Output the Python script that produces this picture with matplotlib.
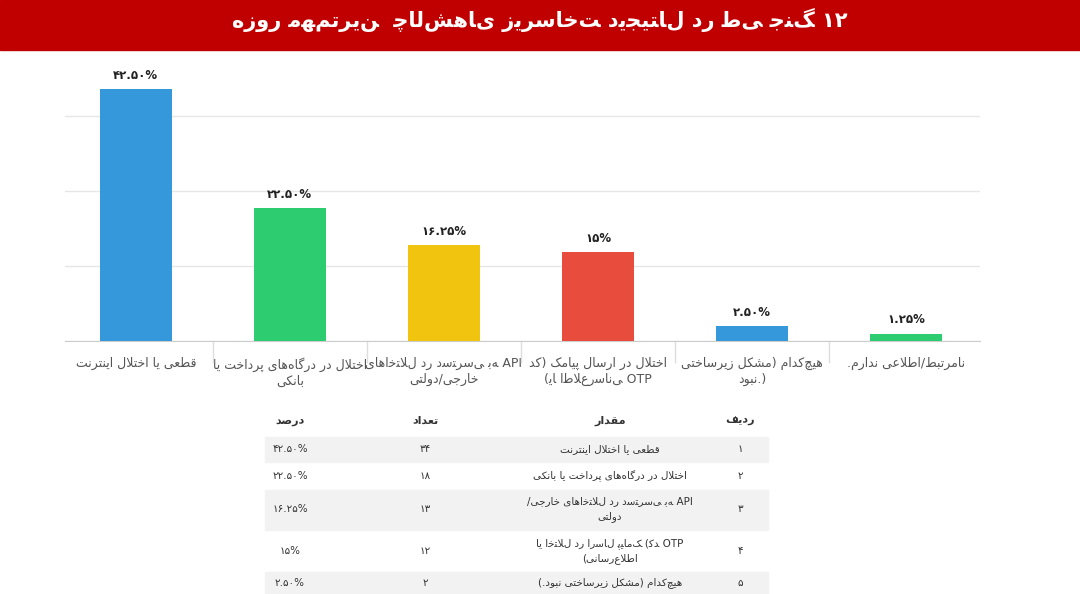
import matplotlib
matplotlib.use("Agg")
import matplotlib.pyplot as plt
import numpy as np

# --- data -------------------------------------------------------------
categories = [
    "قطعی یا اختلال اینترنت",
    "اختلال در درگاه‌های پرداخت یا\nبانکی",
    "اختلال در دسترسی به APIهای\nخارجی/دولتی",
    "اختلال در ارسال پیامک (کد\nیا اطلاع‌رسانی OTP)",
    "هیچ‌کدام (مشکل زیرساختی\n(.نبود",
    "نامرتبط/اطلاعی ندارم.",
]
values = [42.5, 22.5, 16.25, 15.0, 2.5, 1.25]
value_labels = ["۴۲.۵۰%", "۲۲.۵۰%", "۱۶.۲۵%", "۱۵%", "۲.۵۰%", "۱.۲۵%"]
colors = ["#3598db", "#2ecc71", "#f1c40f", "#e74c3c", "#3598db", "#2ecc71"]
title = "مهم‌ترین  چالش‌های زیرساخت دیجیتال در طی جنگ ۱۲ روزه"

table_header = ["ردیف", "مقدار", "تعداد", "درصد"]
table_rows = [
    ["۱", "قطعی یا اختلال اینترنت", "۳۴", "۴۲.۵۰%"],
    ["۲", "اختلال در درگاه‌های پرداخت یا بانکی", "۱۸", "۲۲.۵۰%"],
    ["۳", "اختلال در دسترسی به APIهای خارجی/\nدولتی", "۱۳", "۱۶.۲۵%"],
    ["۴", "اختلال در ارسال پیامک (کد OTP یا\nاطلاع‌رسانی)", "۱۲", "۱۵%"],
    ["۵", "هیچ‌کدام (مشکل زیرساختی نبود.)", "۲", "۲.۵۰%"],
]

# --- minimal Persian shaping (matplotlib has no complex text layout) ---
FORMS = {  # isolated, final, initial, medial
    "ا": (0xFE8D, 0xFE8E), "آ": (0xFE81, 0xFE82), "د": (0xFEA9, 0xFEAA),
    "ذ": (0xFEAB, 0xFEAC), "ر": (0xFEAD, 0xFEAE), "ز": (0xFEAF, 0xFEB0),
    "ژ": (0xFB8A, 0xFB8B), "و": (0xFEED, 0xFEEE),
    "ب": (0xFE8F, 0xFE90, 0xFE91, 0xFE92), "پ": (0xFB56, 0xFB57, 0xFB58, 0xFB59),
    "ت": (0xFE95, 0xFE96, 0xFE97, 0xFE98), "ث": (0xFE99, 0xFE9A, 0xFE9B, 0xFE9C),
    "ج": (0xFE9D, 0xFE9E, 0xFE9F, 0xFEA0), "چ": (0xFB7A, 0xFB7B, 0xFB7C, 0xFB7D),
    "ح": (0xFEA1, 0xFEA2, 0xFEA3, 0xFEA4), "خ": (0xFEA5, 0xFEA6, 0xFEA7, 0xFEA8),
    "س": (0xFEB1, 0xFEB2, 0xFEB3, 0xFEB4), "ش": (0xFEB5, 0xFEB6, 0xFEB7, 0xFEB8),
    "ص": (0xFEB9, 0xFEBA, 0xFEBB, 0xFEBC), "ض": (0xFEBD, 0xFEBE, 0xFEBF, 0xFEC0),
    "ط": (0xFEC1, 0xFEC2, 0xFEC3, 0xFEC4), "ظ": (0xFEC5, 0xFEC6, 0xFEC7, 0xFEC8),
    "ع": (0xFEC9, 0xFECA, 0xFECB, 0xFECC), "غ": (0xFECD, 0xFECE, 0xFECF, 0xFED0),
    "ف": (0xFED1, 0xFED2, 0xFED3, 0xFED4), "ق": (0xFED5, 0xFED6, 0xFED7, 0xFED8),
    "ک": (0xFB8E, 0xFB8F, 0xFB90, 0xFB91), "گ": (0xFB92, 0xFB93, 0xFB94, 0xFB95),
    "ل": (0xFEDD, 0xFEDE, 0xFEDF, 0xFEE0), "م": (0xFEE1, 0xFEE2, 0xFEE3, 0xFEE4),
    "ن": (0xFEE5, 0xFEE6, 0xFEE7, 0xFEE8), "ه": (0xFEE9, 0xFEEA, 0xFEEB, 0xFEEC),
    "ی": (0xFBFC, 0xFBFD, 0xFBFE, 0xFBFF),
}
MIRROR = {"(": ")", ")": "("}


def shape_word(s):
    out = []
    i = 0
    while i < len(s):
        c = s[i]
        if c not in FORMS:
            out.append(c)
            i += 1
            continue
        prev = s[i - 1] if i > 0 else ""
        joins_prev = prev in FORMS and len(FORMS[prev]) == 4
        # lam-alef ligature
        if c == "ل" and i + 1 < len(s) and s[i + 1] == "ا":
            out.append(chr(0xFEFC if joins_prev else 0xFEFB))
            i += 2
            continue
        f = FORMS[c]
        nxt = s[i + 1] if i + 1 < len(s) else ""
        joins_next = len(f) == 4 and nxt in FORMS
        if joins_prev and joins_next:
            out.append(chr(f[3]))
        elif joins_prev:
            out.append(chr(f[1]))
        elif joins_next:
            out.append(chr(f[2]))
        else:
            out.append(chr(f[0]))
        i += 1
    return "".join(out).replace("\u200c", "")


def is_ltr(c):
    return c.isascii() and c.isalnum() or "\u06f0" <= c <= "\u06f9"


def fa_line(s):
    s = shape_word(s)
    runs, cur, cur_ltr = [], "", None
    for c in s:
        l = is_ltr(c) or (cur_ltr and c in ".%")
        if cur_ltr is None or l == cur_ltr:
            cur += c
        else:
            runs.append((cur, cur_ltr))
            cur = c
        cur_ltr = l
    if cur:
        runs.append((cur, cur_ltr))
    vis = []
    for text, ltr in reversed(runs):
        vis.append(text if ltr else "".join(MIRROR.get(c, c) for c in reversed(text)))
    return "".join(vis)


def fa(s):
    return "\n".join(fa_line(l) for l in s.split("\n"))


# --- figure -----------------------------------------------------------
plt.rcParams["font.family"] = ["DejaVu Sans"]
fig = plt.figure(figsize=(10.8, 5.94), dpi=100)
W, H = 1080, 594

# red title banner
fig.patches.append(plt.Rectangle((0, 1 - 50 / H), 1, 50 / H, transform=fig.transFigure,
                                 color="#c00000", zorder=0))
fig.text(0.5, 1 - 20 / H, fa(title), ha="center", va="center", color="white",
         fontsize=15, fontweight="bold")

ax = fig.add_axes([65 / W, 1 - 341 / H, 915 / W, 281 / H])
x = np.arange(len(values))
ax.bar(x, values, width=0.47, color=colors, zorder=3)
for xi, v, lab in zip(x, values, value_labels):
    ax.text(xi, v + 1.2, lab, ha="center", va="bottom", fontsize=8.5, fontweight="bold",
            color="#222222")
ax.set_xlim(-0.46, 5.48)
ax.set_ylim(0, 47.4)
ax.set_yticks(np.arange(0, 47.4, 12.65))
ax.yaxis.grid(True, color="#e6e6e6", linewidth=1, zorder=0)
ax.tick_params(left=False, labelleft=False, bottom=False)
for sp in ["top", "right", "left"]:
    ax.spines[sp].set_visible(False)
ax.spines["bottom"].set_color("#cccccc")
ax.set_xticks(x)
ax.set_xticklabels([fa(c) for c in categories], fontsize=9, color="#555555",
                   linespacing=1.3)
ax.tick_params(axis="x", pad=8)
for b in np.arange(0.5, 5, 1):
    ax.plot([b, b], [0, -0.075], transform=ax.get_xaxis_transform(), color="#dddddd",
            linewidth=1, clip_on=False)

# --- table ------------------------------------------------------------
col_x = [740, 610, 425, 290]
fx = lambda px: px / W
fy = lambda py: 1 - py / H
for cx, h in zip(col_x, table_header):
    fig.text(fx(cx), fy(421), fa(h), ha="center", va="center", fontsize=8,
             fontweight="bold", color="#333333")
row_y = [449, 476, 509, 551, 583]
bands = [(437, 462), None, (490, 530), None, (572, 594)]
for ry, band, row in zip(row_y, bands, table_rows):
    if band:
        fig.patches.append(plt.Rectangle((fx(265), fy(band[1])), fx(503),
                                         (band[1] - band[0]) / H,
                                         transform=fig.transFigure, color="#f2f2f2",
                                         zorder=0))
    for cx, cell in zip(col_x, row):
        fig.text(fx(cx), fy(ry), fa(cell), ha="center", va="center", fontsize=7.5,
                 color="#333333", linespacing=1.6)

fig.savefig("out.png", dpi=100)
